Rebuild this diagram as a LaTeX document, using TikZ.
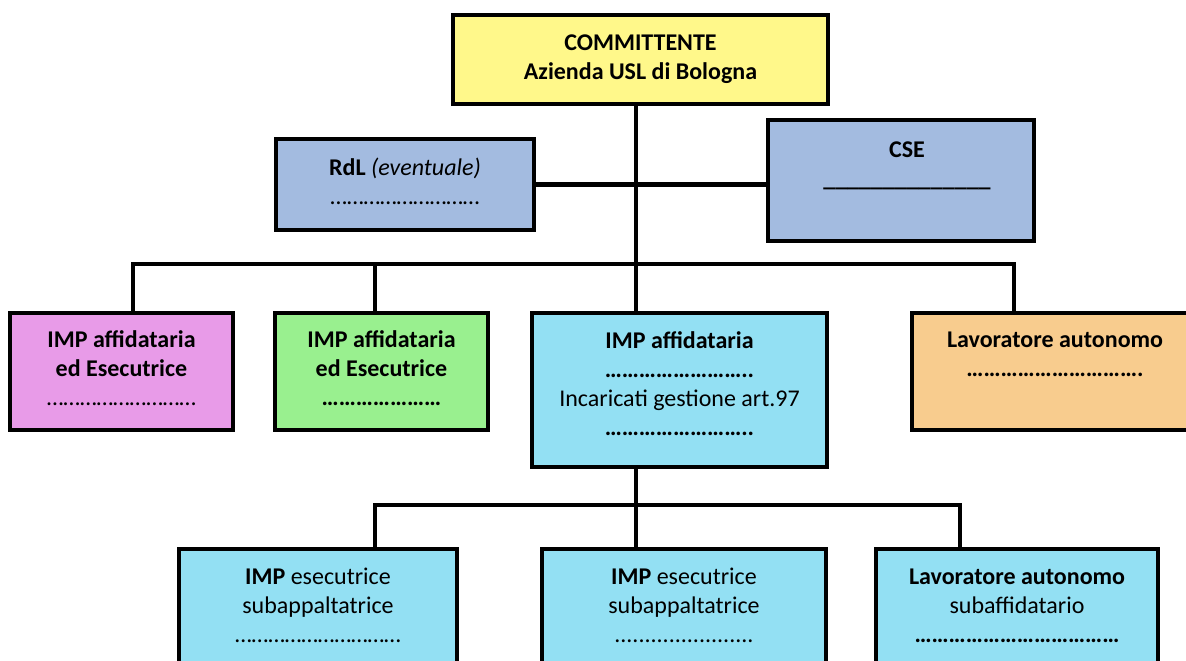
\documentclass[tikz,border=0pt]{standalone}
\usepackage{fontspec}
\setmainfont{Carlito}
\usetikzlibrary{backgrounds}
\definecolor{ylw}{HTML}{FFF88A}
\definecolor{steel}{HTML}{A3BBE0}
\definecolor{pnk}{HTML}{E89BE8}
\definecolor{grn}{HTML}{99F08F}
\definecolor{cyn}{HTML}{93E0F3}
\definecolor{orng}{HTML}{F8CC8E}
\newcommand{\dotrun}[1]{\foreach \i in {1,...,#1}{…}}

\begin{document}
\begin{tikzpicture}[x=0.5pt, y=-0.5pt,
    box/.style={draw, line width=2pt, inner sep=0pt},
    txt/.style={anchor=base, align=center, inner sep=0pt, font=\fontsize{12}{14.5}\selectfont},
    conn/.style={line width=2.2pt, line join=miter},
    shade/.style={line width=2.2pt, draw=black!30, yshift=-1.6pt}]
    \useasboundingbox (0,0) rectangle (1186,660);

    % Committente and coordinators (text anchored on last baseline)
    \node[box, fill=ylw, minimum width=187.5pt, minimum height=44.5pt] (comm) at (640.5,59.5) {};
    \node[txt] (commT) at (640.5,79) {\textbf{COMMITTENTE}\\\textbf{Azienda USL di Bologna}};
    \node[box, fill=steel, minimum width=129pt, minimum height=45.5pt] (rdl) at (405,184.5) {};
    \node[txt] (rdlT) at (405,204) {\textbf{RdL} \textit{(eventuale)}\\\dotrun{9}};
    \node[box, fill=steel, minimum width=133pt, minimum height=60.5pt] (cse) at (901,180.5) {};
    \node[txt] (cseT) at (907,186) {\textbf{CSE}\\\textbf{\_\_\_\_\_\_\_\_\_\_\_\_\_\_}};

    % Imprese - row 2
    \node[box, fill=pnk, minimum width=111.5pt, minimum height=58.5pt] (pink) at (121.5,371.5) {};
    \node[txt] (pinkT) at (121.5,405) {\textbf{IMP affidataria}\\\textbf{ed Esecutrice}\\\dotrun{9}};
    \node[box, fill=grn, minimum width=106.5pt, minimum height=58.5pt] (green) at (381.5,371.5) {};
    \node[txt] (greenT) at (381.5,405) {\textbf{IMP affidataria}\\\textbf{ed Esecutrice}\\\textbf{\dotrun{7}}};
    \node[box, fill=cyn, minimum width=147.5pt, minimum height=77pt] (affid) at (679.5,390) {};
    \node[txt] (affidT) at (679.5,435) {\textbf{IMP affidataria}\\\textbf{\dotrun{8}..}\\Incaricati gestione art.97\\\textbf{\dotrun{8}..}};
    \node[box, fill=orng, minimum width=143pt, minimum height=58.5pt] (auto) at (1055,371.5) {};
    \node[txt] (autoT) at (1055,376) {\textbf{Lavoratore autonomo}\\\textbf{\dotrun{10}.}};

    % Subappalti - row 3
    \node[box, fill=cyn, minimum width=139pt, minimum height=85.5pt] (subA) at (318,634.5) {};
    \node[txt] (subAT) at (318,642) {\textbf{IMP} esecutrice\\subappaltatrice\\\dotrun{10}};
    \node[box, fill=cyn, minimum width=142pt, minimum height=85.5pt] (subB) at (684,634.5) {};
    \node[txt] (subBT) at (684,642) {\textbf{IMP} esecutrice\\subappaltatrice\\.......................};
    \node[box, fill=cyn, minimum width=141pt, minimum height=85.5pt] (subC) at (1017,634.5) {};
    \node[txt] (subCT) at (1017,642) {\textbf{Lavoratore autonomo}\\subaffidatario\\\textbf{\dotrun{12}}};

    % Junctions
    \coordinate (bL) at (133,264);
    \coordinate (bG) at (375,264);
    \coordinate (bM) at (636,264);
    \coordinate (bR) at (1014,264);
    \coordinate (cL) at (375,505);
    \coordinate (cM) at (636,505);
    \coordinate (cR) at (960,505);

    % Connectors
    \begin{scope}[on background layer]
        \draw[shade] (rdl.east) -- (rdl.east -| cse.west);
        \draw[shade] (bL) -- (bR);
        \draw[shade] (cL) -- (cR);
        \draw[conn] (rdl.east) -- (rdl.east -| cse.west);
        \draw[conn] (comm.south -| bM) -- (affid.north -| bM);
        \draw[conn] (pink.north -| bL) -- (bL) -- (bR) -- (auto.north -| bR);
        \draw[conn] (bG) -- (green.north -| bG);
        \draw[conn] (affid.south -| cM) -- (subB.north -| cM);
        \draw[conn] (subA.north -| cL) -- (cL) -- (cR) -- (subC.north -| cR);
    \end{scope}
\end{tikzpicture}
\end{document}
